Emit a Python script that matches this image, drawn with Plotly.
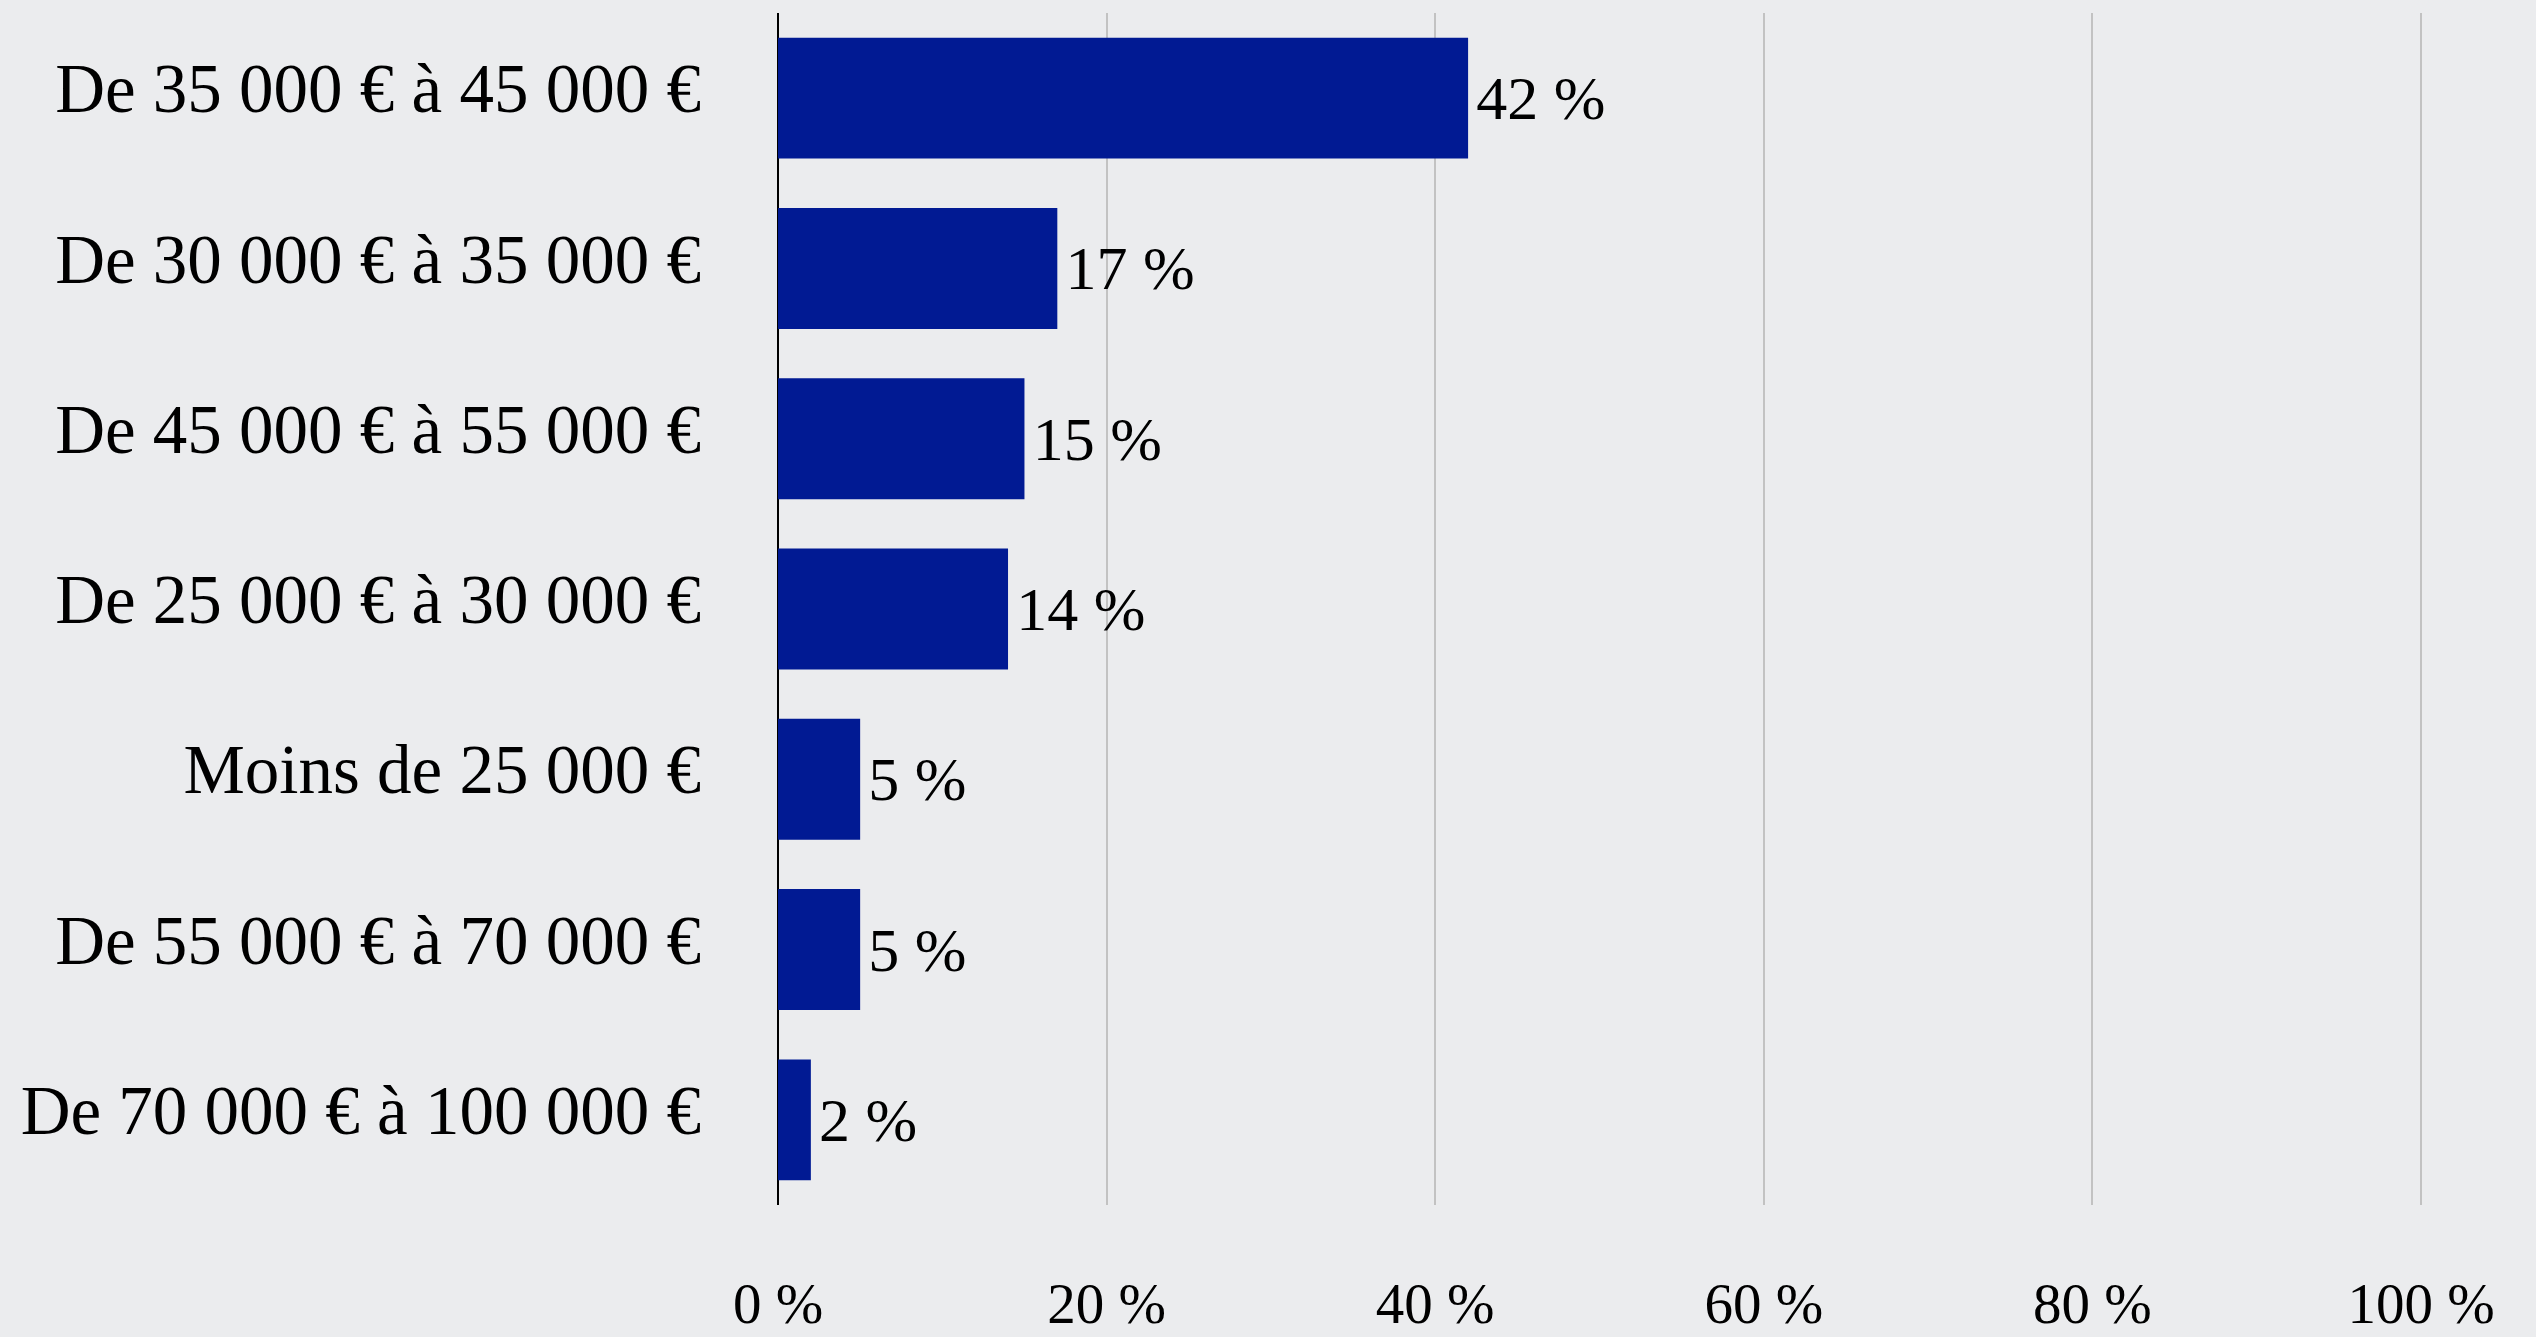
import plotly.graph_objects as go

categories = [
    "De 35 000 € à 45 000 €",
    "De 30 000 € à 35 000 €",
    "De 45 000 € à 55 000 €",
    "De 25 000 € à 30 000 €",
    "Moins de 25 000 €",
    "De 55 000 € à 70 000 €",
    "De 70 000 € à 100 000 €",
]
values = [42, 17, 15, 14, 5, 5, 2]
tick_vals = [0, 20, 40, 60, 80, 100]
tick_text = ["0 %", "20 %", "40 %", "60 %", "80 %", "100 %"]

FONT = "Liberation Serif, Times New Roman, serif"

fig = go.Figure(
    go.Bar(
        x=values,
        y=categories,
        orientation="h",
        marker=dict(color="#011a93", line=dict(width=0)),
        text=[f"\u200a{v} %" for v in values],
        textposition="outside",
        textfont=dict(family=FONT, size=62, color="#000000"),
        constraintext="none",
        cliponaxis=False,
        hoverinfo="skip",
    )
)

fig.update_layout(
    width=2536,
    height=1337,
    paper_bgcolor="#ebecee",
    plot_bgcolor="#ebecee",
    margin=dict(l=778, r=110, t=13, b=132, autoexpand=False),
    bargap=0.29,
    showlegend=False,
    font=dict(family=FONT, color="#000000"),
)

fig.update_xaxes(
    range=[0, 100.3],
    tickvals=tick_vals,
    ticktext=tick_text,
    tickfont=dict(family=FONT, size=57, color="#000000"),
    showgrid=True,
    gridcolor="#c2c2c2",
    gridwidth=2,
    zeroline=True,
    zerolinecolor="#000000",
    zerolinewidth=2,
    showline=False,
    ticks="",
    ticklabelstandoff=60,
    automargin=False,
    fixedrange=True,
)

fig.update_yaxes(
    categoryorder="array",
    categoryarray=categories[::-1],
    tickfont=dict(family=FONT, size=69, color="#000000"),
    showgrid=False,
    zeroline=False,
    showline=False,
    ticks="",
    ticklabelstandoff=76,
    ticklabelshift=-10,
    automargin=False,
    fixedrange=True,
)

fig.write_html(
    "out.html",
    config={"displayModeBar": False},
    post_script="document.body.style.margin='0';document.body.style.overflow='hidden';",
)
